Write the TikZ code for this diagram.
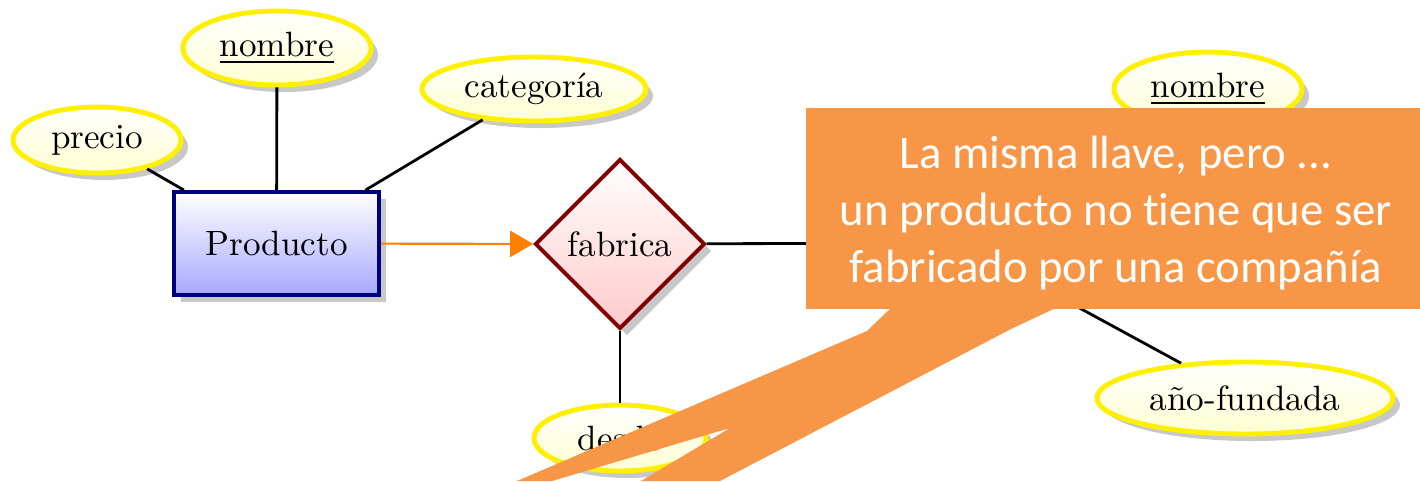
\documentclass[tikz,border=0pt]{standalone}
\usepackage{fontspec}
\newfontfamily\calloutfont[Ligatures=NoCommon]{Carlito}
\usetikzlibrary{arrows.meta,shapes.geometric,shadows}
\definecolor{attrline}{HTML}{FFF000}
\definecolor{attrfill}{HTML}{FFFFD2}
\definecolor{entline}{HTML}{000080}
\definecolor{entfill}{HTML}{A8A8FF}
\definecolor{relline}{HTML}{800000}
\definecolor{relfill}{HTML}{FFCACA}
\definecolor{shadegray}{HTML}{C8C8C8}
\definecolor{arrorange}{HTML}{FF8000}
\definecolor{callfill}{HTML}{F79646}
\tikzset{
  shd/.style={drop shadow={shadow xshift=0.07cm, shadow yshift=-0.07cm, fill=shadegray, opacity=1}},
  attr/.style={ellipse, draw=attrline, line width=1.4pt, top color=white, bottom color=attrfill, inner sep=0pt, shd},
  ent/.style={rectangle, draw=entline, line width=1.1pt, top color=white, bottom color=entfill, inner sep=0pt, shd},
  rel/.style={diamond, aspect=1, draw=relline, line width=1.1pt, top color=white, bottom color=relfill, inner sep=0pt, shd},
  conn/.style={draw=black, line width=0.8pt},
  oarc/.style={-{Triangle[length=2.3mm,width=2.6mm]}, draw=arrorange, line width=0.6pt},
  callbox/.style={fill=callfill, draw=none},
  calltxt/.style={font=\calloutfont\fontsize{13.3}{16.2}\selectfont, text=white, align=center, inner sep=0pt},
}
\begin{document}
\begin{tikzpicture}[x=1cm,y=1cm]
  \useasboundingbox (0,0) rectangle (14.2,-4.81);
  % entidad, relacion y atributos
  \node[ent, minimum width=2.05cm, minimum height=1.03cm] (prod) at (2.765,-2.435) {Producto};
  \node[rel, minimum width=1.70cm, minimum height=1.70cm] (fab) at (6.20,-2.44) {fabrica};
  \node[attr, minimum width=1.68cm, minimum height=0.66cm] (precio) at (0.97,-1.40) {precio};
  \node[attr, minimum width=1.88cm, minimum height=0.74cm] (nomp) at (2.77,-0.48) {\underline{nombre}};
  \node[attr, minimum width=2.24cm, minimum height=0.64cm] (categ) at (5.34,-0.89) {categoría};
  \node[attr, minimum width=1.72cm, minimum height=0.66cm] (desde) at (6.20,-4.38) {desde};
  \node[attr, minimum width=1.88cm, minimum height=0.74cm] (nomc) at (12.08,-0.89) {\underline{nombre}};
  \node[attr, minimum width=2.96cm, minimum height=0.72cm] (anio) at (12.45,-3.98) {año-fundada};
  \coordinate (cia) at (9.60,-2.43);
  \draw[conn] (precio) -- (prod);
  \draw[conn] (nomp) -- (prod);
  \draw[conn] (categ) -- (prod);
  \draw[conn] (fab) -- (desde);
  \draw[conn] (fab) -- (cia);
  \draw[conn] (anio) -- (cia);
  \draw[oarc] (prod) -- (fab);
  % globo
  \fill[callbox] (8.94,-3.05) -- (8.67,-3.31) -- (5.17,-4.81) -- (5.52,-4.81) -- (7.30,-4.28)
    -- (6.41,-4.81) -- (7.20,-4.81) -- (10.11,-3.29) -- (10.62,-3.05) -- cycle;
  \fill[callbox] (8.06,-1.08) rectangle (14.2,-3.09);
  \node[calltxt] (nota) at (11.16,-2.13) {La misma llave, pero ...\\un producto no tiene que ser\\fabricado por una compañía};
\end{tikzpicture}
\end{document}
